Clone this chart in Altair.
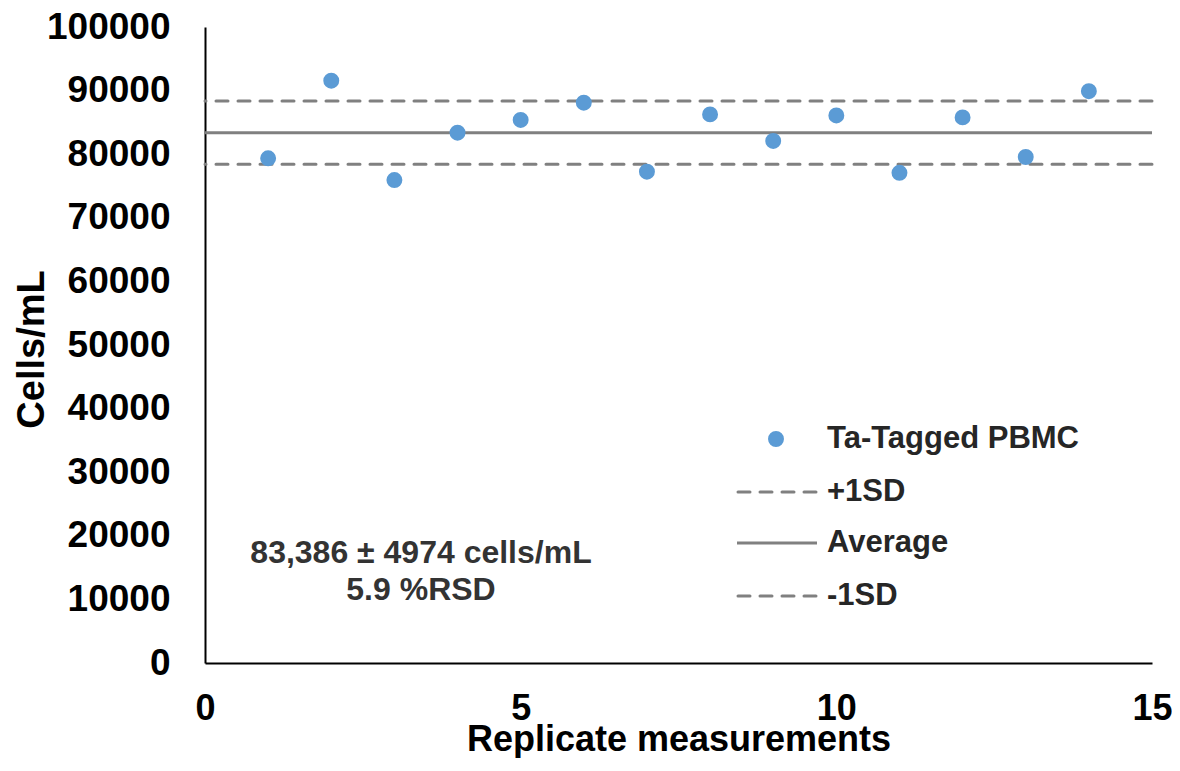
import altair as alt
import pandas as pd

# Data
replicates = [1, 2, 3, 4, 5, 6, 7, 8, 9, 10, 11, 12, 13, 14]
cells_per_ml = [79360, 91560, 75940, 83380, 85380, 88100, 77250,
                86260, 82090, 86100, 77080, 85790, 79560, 89910]

stat_names = ["+1SD", "Average", "-1SD"]
stat_values = [88360, 83386, 78412]

x_ticks = [0, 5, 10, 15]
y_ticks = [0, 10000, 20000, 30000, 40000, 50000, 60000, 70000, 80000, 90000, 100000]

annotation_lines = ["83,386 \u00b1 4974 cells/mL", "5.9 %RSD"]
series_name = "Ta-Tagged PBMC"

FONT = "Liberation Sans"
BLUE = "#5B9BD5"
GREY = "#808080"
TXT = "#262626"

points_df = pd.DataFrame({"rep": replicates, "cells": cells_per_ml})
stats_df = pd.DataFrame({"name": stat_names, "cells": stat_values})
one = pd.DataFrame({"k": [0]})

x_enc = alt.X(
    "rep:Q",
    scale=alt.Scale(domain=[0, 15], nice=False, zero=False),
    axis=alt.Axis(
        values=x_ticks, title="Replicate measurements", grid=False, ticks=False, tickSize=0,
        labelFontSize=36, labelFont=FONT, labelFontWeight="bold", labelColor="#000000",
        labelPadding=28, labelFlush=False,
        titleFontSize=36, titleFont=FONT, titleFontWeight="bold", titleColor="#000000",
        titleBaseline="alphabetic", titleY=87,
        domainColor="#000000", domainWidth=2,
    ),
)
y_enc = alt.Y(
    "cells:Q",
    scale=alt.Scale(domain=[0, 100000], nice=False),
    axis=alt.Axis(
        values=y_ticks, format="d", title="Cells/mL", grid=False, ticks=False, tickSize=0,
        labelFontSize=37, labelFont=FONT, labelFontWeight="bold", labelColor="#000000",
        labelPadding=35,
        titleFontSize=38, titleFont=FONT, titleFontWeight="bold", titleColor="#000000",
        titleBaseline="alphabetic", titleX=-162, titleY=322,
        domainColor="#000000", domainWidth=2,
    ),
)

points = alt.Chart(points_df).mark_circle(size=254, color=BLUE, opacity=1).encode(
    x=x_enc, y=y_enc
)

sd_lines = alt.Chart(stats_df).transform_filter(
    alt.datum.name != "Average"
).mark_rule(color=GREY, strokeWidth=3, strokeDash=[12, 10], strokeCap="round").encode(
    y=y_enc
)
avg_line = alt.Chart(stats_df).transform_filter(
    alt.datum.name == "Average"
).mark_rule(color=GREY, strokeWidth=3).encode(
    y=y_enc
)

# Annotation text
ann1 = alt.Chart(one).mark_text(
    font=FONT, fontSize=32, fontWeight="bold", color="#333333", align="center", baseline="middle"
).encode(x=alt.value(216), y=alt.value(526), text=alt.value(annotation_lines[0]))
ann2 = alt.Chart(one).mark_text(
    font=FONT, fontSize=32, fontWeight="bold", color="#333333", align="center", baseline="middle"
).encode(x=alt.value(216), y=alt.value(563), text=alt.value(annotation_lines[1]))

# Manual legend
leg_dot = alt.Chart(one).mark_circle(size=254, color=BLUE, opacity=1).encode(
    x=alt.value(571), y=alt.value(412)
)
leg_items = []
leg_ys = [412, 465, 516, 569]
leg_labels = [series_name] + stat_names
for lbl, yy in zip(leg_labels, leg_ys):
    leg_items.append(
        alt.Chart(one).mark_text(
            font=FONT, fontSize=31, fontWeight="bold", color=TXT, align="left", baseline="middle"
        ).encode(x=alt.value(622), y=alt.value(yy), text=alt.value(lbl))
    )
leg_plus = alt.Chart(one).mark_rule(color=GREY, strokeWidth=3, strokeDash=[12, 10], strokeCap="round").encode(
    x=alt.value(533), x2=alt.value(611), y=alt.value(465)
)
leg_avg = alt.Chart(one).mark_rule(color=GREY, strokeWidth=3).encode(
    x=alt.value(532), x2=alt.value(612), y=alt.value(516)
)
leg_minus = alt.Chart(one).mark_rule(color=GREY, strokeWidth=3, strokeDash=[12, 10], strokeCap="round").encode(
    x=alt.value(533), x2=alt.value(611), y=alt.value(569)
)

chart = alt.layer(
    sd_lines, avg_line, points, ann1, ann2, leg_dot, leg_plus, leg_avg, leg_minus, *leg_items
).properties(
    width=947, height=636,
    autosize=alt.AutoSizeParams(type="none"),
    padding={"left": 197, "top": 19, "right": 20, "bottom": 95},
    background="white",
).configure_view(strokeWidth=0)

chart.save("out.html", embed_options={"renderer": "svg", "actions": False})
